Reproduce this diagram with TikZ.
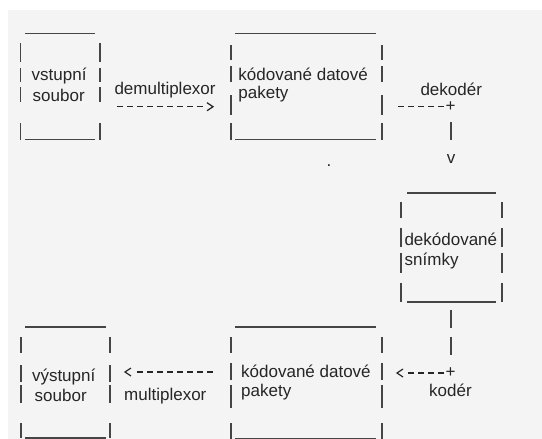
\documentclass[tikz,border=0pt]{standalone}
\usepackage{fontspec}
\setmainfont{Liberation Sans}
\definecolor{panel}{HTML}{F4F4F4}
\definecolor{ink}{HTML}{262626}
\definecolor{framecol}{HTML}{454545}

\begin{document}
\begin{tikzpicture}[x=1pt,y=-1pt,
  lbl/.style={font=\fontsize{17}{20}\selectfont, text=ink, inner sep=0pt, anchor=base west},
  glyph/.style={font=\fontsize{17}{20}\selectfont, text=ink, inner sep=0pt, anchor=base},
  hrule/.style={draw=framecol, line width=1.3pt},
  vbar/.style={draw=framecol, line width=1.1pt},
  dashline/.style={draw=ink, line width=1.2pt, dash pattern=on 6pt off 4pt},
  chev/.style={draw=ink, line width=1.2pt, line join=miter},
]
% page and panel
\fill[white] (0,0) rectangle (542,439);
\fill[panel] (8,10) rectangle (542,439);
\useasboundingbox (0,0) rectangle (542,439);

% ---------- box: vstupní soubor ----------
\draw[hrule] (25,33.3) -- (95,33.3);
\draw[hrule] (25,139.3) -- (95,139.3);
\foreach \a/\b in {43/62,68/82,87/102,123/140}{
  \draw[vbar] (20.7,\a) -- (20.7,\b);
  \draw[vbar] (100,\a) -- (100,\b);
}
\node[lbl] (inA) at (31.5,81) {vstupní};
\node[lbl] (inB) at (32.5,101) {soubor};

% ---------- box: kódované datové pakety (top) ----------
\draw[hrule] (235,33.3) -- (376,33.3);
\draw[hrule] (235,139.3) -- (376,139.3);
\foreach \a/\b in {45/60,66/82,95/115,123/140}{
  \draw[vbar] (231,\a) -- (231,\b);
  \draw[vbar] (382,\a) -- (382,\b);
}
\node[lbl] (pkA1) at (238.2,80) {kódované datové};
\node[lbl] (pkA2) at (238.2,98) {pakety};

% ---------- box: dekódované snímky ----------
\draw[hrule] (407,193) -- (496,193);
\draw[hrule] (407,302) -- (496,302);
\foreach \a/\b in {202/218,228/247,253/273,283/302}{
  \draw[vbar] (401,\a) -- (401,\b);
  \draw[vbar] (502,\a) -- (502,\b);
}
\node[lbl] (fr1) at (404.3,245) {dekódované};
\node[lbl] (fr2) at (404.5,265) {snímky};

% ---------- box: výstupní soubor ----------
\draw[hrule] (25,327) -- (106,327);
\draw[hrule] (25,438) -- (106,438);
\foreach \a/\b in {337/353,365/382,385/403,423/438}{
  \draw[vbar] (21,\a) -- (21,\b);
  \draw[vbar] (110,\a) -- (110,\b);
}
\node[lbl] (outA) at (31.8,381) {výstupní};
\node[lbl] (outB) at (34.5,401.5) {soubor};

% ---------- box: kódované datové pakety (bottom) ----------
\draw[hrule] (235,327) -- (376,327);
\draw[hrule] (235,438.5) -- (376,438.5);
\foreach \a/\b in {337/353,363/380,385/408,423/439}{
  \draw[vbar] (231,\a) -- (231,\b);
  \draw[vbar] (382,\a) -- (382,\b);
}
\node[lbl] (pkB1) at (241,377) {kódované datové};
\node[lbl] (pkB2) at (241,396) {pakety};

% ---------- demultiplexor ----------
\node[lbl] (dmx) at (114.3,94.5) {demultiplexor};
\coordinate (dmxS) at (117,106.7);
\coordinate (dmxD) at (203,106.7);
\coordinate (dmxT) at (213,106.7);
\draw[dashline] (dmxS) -- (dmxD);
\draw[chev] ([shift={(-6,-4)}]dmxT) -- (dmxT) -- ([shift={(-6,4)}]dmxT);

% ---------- dekodér ----------
\node[lbl] (dec) at (420.3,95) {dekodér};
\coordinate (decS) at (398,106.7);
\coordinate (decD) at (444,106.7);
\node[glyph] (decJ) at (450.5,111.5) {+};
\draw[dashline] (decS) -- (decD);
\draw[vbar] (451,122) -- (451,140);
\node[glyph] (decV) at (451,163) {v};

% ---------- kodér ----------
\draw[vbar] (451,310) -- (451,328);
\draw[vbar] (451,337) -- (451,355);
\node[glyph] (encJ) at (450.5,377.8) {+};
\coordinate (encS) at (444,373);
\coordinate (encD) at (406,373);
\coordinate (encT) at (397,373);
\draw[dashline] (encS) -- (encD);
\draw[chev] ([shift={(6,-4)}]encT) -- (encT) -- ([shift={(6,4)}]encT);
\node[lbl] (enc) at (429,396.5) {kodér};

% ---------- multiplexor ----------
\coordinate (mxS) at (213,372);
\coordinate (mxD) at (135,372);
\coordinate (mxT) at (125,372);
\draw[dashline] (mxS) -- (mxD);
\draw[chev] ([shift={(6,-4)}]mxT) -- (mxT) -- ([shift={(6,4)}]mxT);
\node[lbl] (mx) at (124,400) {multiplexor};

% stray full stop
\node[lbl] (dot) at (326.5,166.5) {.};
\end{tikzpicture}
\end{document}
